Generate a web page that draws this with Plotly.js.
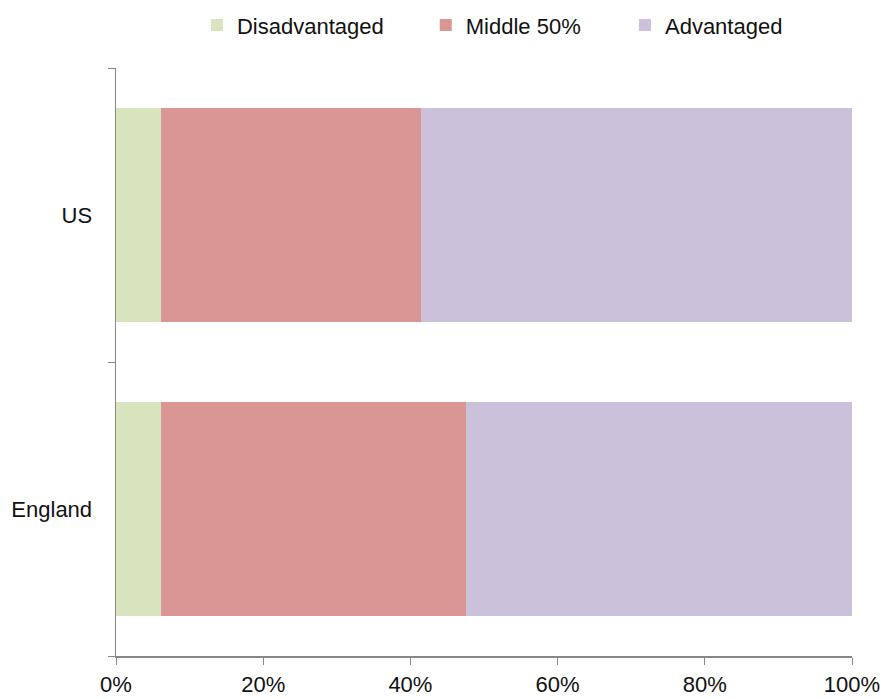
<!DOCTYPE html>
<html>
<head>
<meta charset="utf-8">
<script src="https://cdn.plot.ly/plotly-3.0.1.min.js"></script>
<style>html,body{margin:0;padding:0;background:#fff;}#chart{width:887px;height:699px;}</style>
</head>
<body>
<div id="chart"></div>
<script>
const categories = ["England", "US"];
const seriesNames = ["Disadvantaged", "Middle 50%", "Advantaged"];
const disadvantaged = [0.061, 0.061];
const middle50 = [0.414, 0.353];
const advantaged = [0.525, 0.586];
const tickVals = [0, 0.2, 0.4, 0.6, 0.8, 1.0];
const tickText = ["0%", "20%", "40%", "60%", "80%", "100%"];

const colors = ["#d7e4bd", "#d99694", "#ccc1da"];
const values = [disadvantaged, middle50, advantaged];
const legendIds = ["legend", "legend2", "legend3"];
const legendX = [0.222, 0.480, 0.7046];

const traces = seriesNames.map((name, i) => ({
  type: "bar",
  orientation: "h",
  name: name,
  y: categories,
  x: values[i],
  legend: legendIds[i],
  marker: { color: colors[i], line: { width: 0 } },
  hoverinfo: "x+name"
}));

const font = { family: "Liberation Sans, Arial, sans-serif", size: 22, color: "#111" };

const layout = {
  width: 887,
  height: 699,
  margin: { l: 116, r: 35, t: 68, b: 43 },
  barmode: "stack",
  bargap: 0.27,
  paper_bgcolor: "#fff",
  plot_bgcolor: "#fff",
  font: font,
  showlegend: true,
  xaxis: {
    range: [0, 1],
    tickvals: tickVals,
    ticktext: tickText,
    showgrid: false,
    zeroline: false,
    showline: true,
    linecolor: "#888",
    linewidth: 1.5,
    ticks: "outside",
    ticklen: 7,
    tickcolor: "#888",
    ticklabelstandoff: 1,
    tickfont: { family: font.family, size: 22, color: "#111" },
    fixedrange: true
  },
  yaxis: {
    type: "category",
    categoryorder: "array",
    categoryarray: categories,
    range: [-0.5, 1.5],
    showgrid: false,
    zeroline: false,
    showline: true,
    linecolor: "#888",
    linewidth: 1.5,
    ticks: "outside",
    tickson: "boundaries",
    ticklen: 7,
    tickcolor: "#888",
    ticklabelstandoff: 18,
    tickfont: font,
    fixedrange: true
  }
};

legendIds.forEach((id, i) => {
  layout[id] = {
    orientation: "h",
    xref: "container",
    yref: "container",
    x: legendX[i],
    xanchor: "left",
    y: 0.994,
    yanchor: "top",
    font: font,
    itemwidth: 30,
    bgcolor: "rgba(0,0,0,0)"
  };
});

Plotly.newPlot("chart", traces, layout, { displayModeBar: false, staticPlot: true });
</script>
</body>
</html>
